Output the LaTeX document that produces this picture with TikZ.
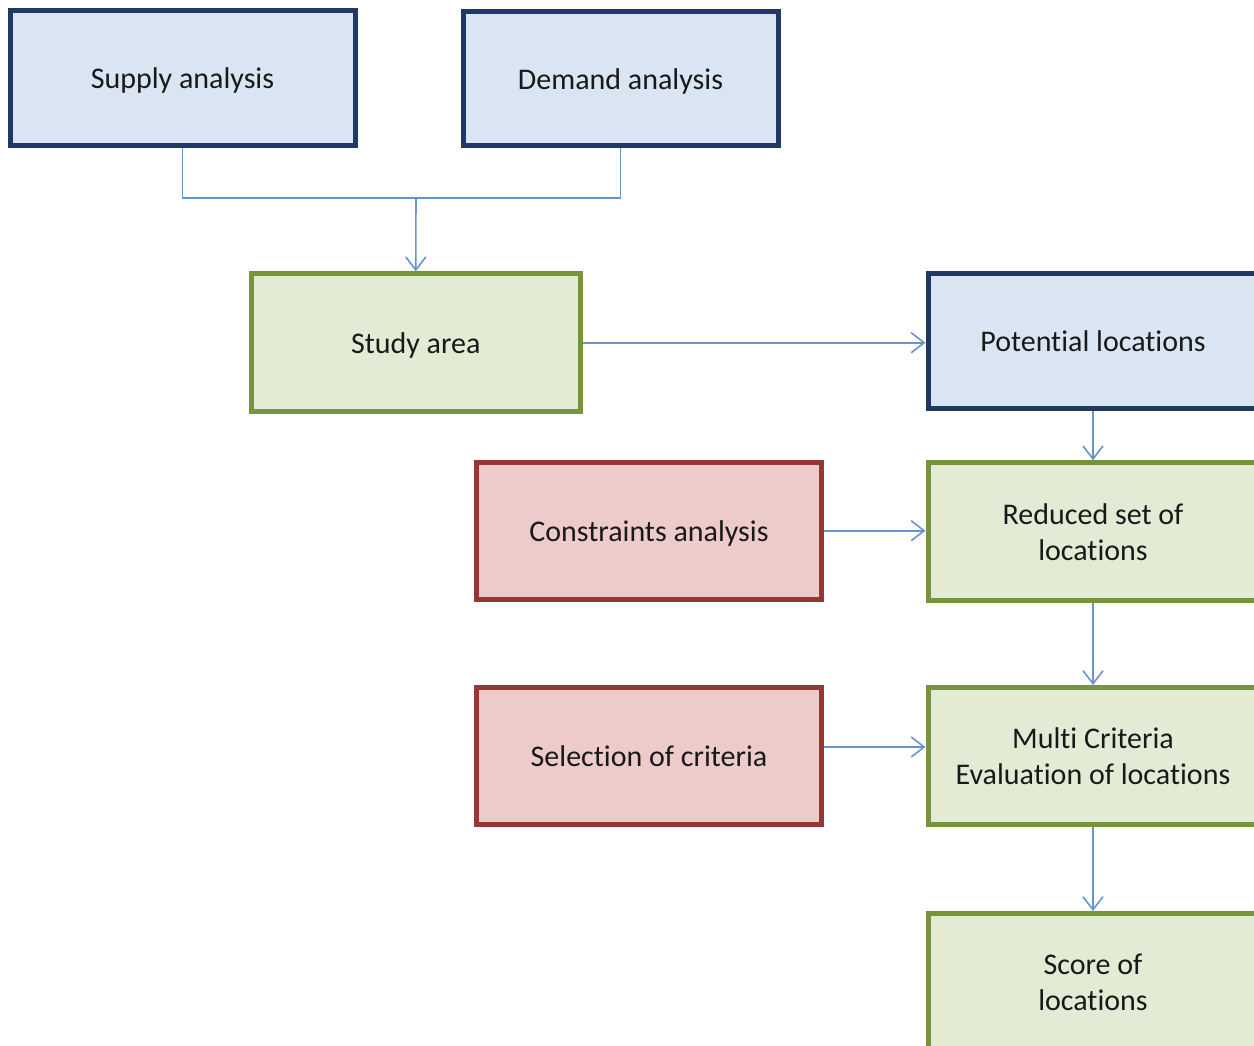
\documentclass[tikz,border=0pt]{standalone}
\usepackage{fontspec}
\setmainfont{Carlito}[Ligatures={NoCommon,NoContextual}]
\usetikzlibrary{arrows.meta}

\definecolor{navyline}{RGB}{31,56,100}
\definecolor{bluefill}{RGB}{218,229,243}
\definecolor{greenline}{RGB}{119,147,60}
\definecolor{greenfill}{RGB}{227,235,213}
\definecolor{redline}{RGB}{149,55,53}
\definecolor{redfill}{RGB}{237,203,203}
\definecolor{linkblue}{RGB}{104,148,206}

\tikzset{
  box/.style={rectangle, line width=5pt, align=center, inner sep=0pt,
    font=\fontsize{30}{36}\selectfont, text=black!90, text depth=0pt},
  bluebox/.style={box, draw=navyline, fill=bluefill},
  greenbox/.style={box, draw=greenline, fill=greenfill},
  redbox/.style={box, draw=redline, fill=redfill},
  link/.style={draw=linkblue, line width=1.6pt},
  arrowlink/.style={link, -{Straight Barb[length=13pt,width=20pt,line width=1.6pt]}}
}

\begin{document}
\begin{tikzpicture}[x=1pt,y=-1pt]
\useasboundingbox (0,0) rectangle (1254,1046);
\clip (0,0) rectangle (1254,1046);

% input analyses
\node[bluebox, minimum width=345pt, minimum height=135pt] (sup) at (182.5,78.5) {Supply analysis};
\node[bluebox, minimum width=315pt, minimum height=134pt] (dem) at (620.5,79) {Demand analysis};

% study area and candidate locations
\node[greenbox, minimum width=329pt, minimum height=138pt] (study) at (415.75,342.75) {Study area};
\node[bluebox, minimum width=330pt, minimum height=135pt] (pot) at (1093,340.75) {Potential locations};

% constraints and criteria
\node[redbox, minimum width=345pt, minimum height=137pt] (cons) at (649,530.75) {Constraints analysis};
\node[greenbox, minimum width=330pt, minimum height=138pt] (red) at (1093,531.75) {Reduced set of\\locations};
\node[redbox, minimum width=345pt, minimum height=137pt] (sel) at (649,756) {Selection of criteria};
\node[greenbox, minimum width=330pt, minimum height=137pt] (multi) at (1093,756) {Multi Criteria\\Evaluation of locations};
\node[greenbox, minimum width=330pt, minimum height=137pt] (score) at (1093,982) {Score of\\locations};

% merge of supply and demand into the study area
\coordinate (j) at (416,198);
\path[link] (sup.south) |- (j) -| (dem.south);
\path[arrowlink] (j) -- (study.north);

% main flow
\path[arrowlink] (study.east) -- (study.east -| pot.west);
\path[arrowlink] (pot.south) -- (red.north);
\path[arrowlink] (cons.east) -- (cons.east -| red.west);
\path[arrowlink] (red.south) -- (multi.north);
\path[arrowlink] ([yshift=9pt]sel.east) -- ([yshift=9pt]sel.east -| multi.west);
\path[arrowlink] (multi.south) -- (score.north);
\end{tikzpicture}
\end{document}
